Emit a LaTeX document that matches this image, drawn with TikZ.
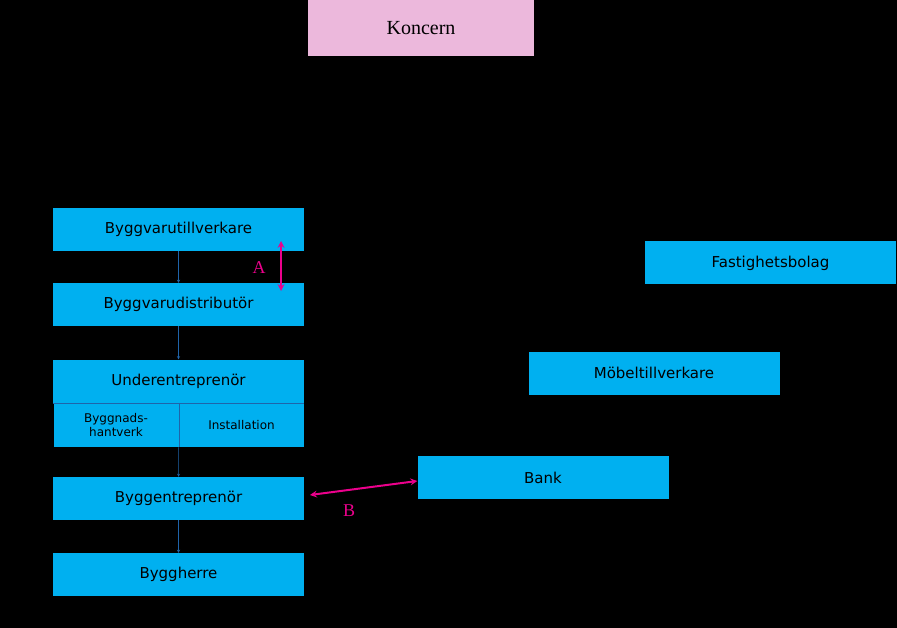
\documentclass[tikz,border=0pt]{standalone}
\usepackage{fontspec}
\setmainfont{DejaVu Sans}
\newfontfamily\serifnode{Liberation Serif}
\definecolor{boxblue}{RGB}{0,176,240}
\definecolor{linkblue}{RGB}{31,100,170}
\definecolor{konpink}{RGB}{236,184,220}
\begin{document}
\begin{tikzpicture}[x=1pt,y=-1pt,
  actor/.style={fill=boxblue,minimum width=251pt,minimum height=43pt,inner sep=0pt,font=\fontsize{15}{18}\selectfont},
  part/.style={fill=boxblue,minimum width=125pt,minimum height=44pt,inner sep=0pt,align=center,font=\fontsize{12}{14}\selectfont},
  flow/.style={->,>=stealth,linkblue,thin},
  link/.style={<->,>=stealth,magenta,line width=2pt},
  tag/.style={magenta,font=\serifnode\fontsize{18}{20}\selectfont}]
\fill[black] (0,0) rectangle (897,628);
\node[fill=konpink,minimum width=226pt,minimum height=56pt,font=\serifnode\fontsize{20}{24}\selectfont] (koncern) at (421,28) {Koncern};
\node[actor] (tillv) at (178.5,229.5) {Byggvarutillverkare};
\node[actor] (distr) at (178.5,304.5) {Byggvarudistributör};
\node[actor] (under) at (178.5,381) {Underentreprenör};
\node[part] (hantv) at (116,425) {Byggnads-\\hantverk};
\node[part] (install) at (241.5,425) {Installation};
\node[actor] (bentr) at (178.5,498.5) {Byggentreprenör};
\node[actor] (herre) at (178.5,574.5) {Byggherre};
\node[actor] (fastig) at (770.5,263) {Fastighetsbolag};
\node[actor] (mobel) at (654,373) {Möbeltillverkare};
\node[actor] (bank) at (543,477.5) {Bank};
\draw[linkblue,thin] (under.south west) -- (under.south east);
\draw[linkblue,thin] (hantv.north east) -- (hantv.south east);
\draw[flow] (tillv) -- (distr);
\draw[flow] (distr) -- (under);
\draw[flow] (hantv.south east) -- (bentr);
\draw[flow] (bentr) -- (herre);
\coordinate (atop) at (281,241);
\coordinate (abot) at (281,291);
\draw[link] (atop) -- (abot);
\node[tag] (labelA) at (259,268) {A};
\draw[link] (310,495) -- (bank.west |- 0,481);
\node[tag] (labelB) at (349,511) {B};
\end{tikzpicture}
\end{document}
